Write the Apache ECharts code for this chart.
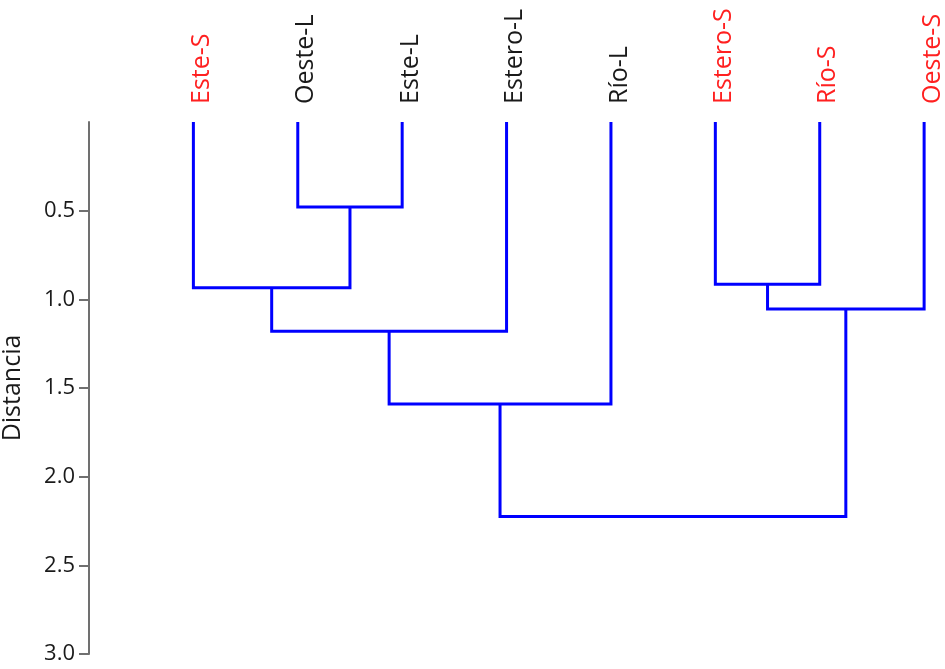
<!DOCTYPE html>
<html>
<head>
<meta charset="utf-8">
<script src="https://cdn.jsdelivr.net/npm/echarts@6/dist/echarts.min.js"></script>
<style>html,body{margin:0;padding:0;background:#fff}#c{width:945px;height:669px}</style>
</head>
<body>
<div id="c"></div>
<script>
// Leaves in dendrogram order
const leaves = ['Este-S', 'Oeste-L', 'Este-L', 'Estero-L', 'Río-L', 'Estero-S', 'Río-S', 'Oeste-S'];
// Linkage: cluster ids 0..7 are leaves, 8+ are merges in order
const mergeLeft   = [1, 5, 0, 9, 10, 12, 13];
const mergeRight  = [2, 6, 8, 7, 3, 4, 11];
const mergeHeight = [0.48, 0.915, 0.935, 1.055, 1.18, 1.59, 2.225];
const yTicks = [0.5, 1.0, 1.5, 2.0, 2.5, 3.0];

// node positions (x = leaf order index, y = distance)
const nodeX = leaves.map((_, i) => i);
const nodeH = leaves.map(() => 0);
const links = [];
mergeLeft.forEach((l, k) => {
  const r = mergeRight[k], h = mergeHeight[k];
  links.push([nodeX[l], nodeH[l], nodeX[r], nodeH[r], h]);
  nodeX.push((nodeX[l] + nodeX[r]) / 2);
  nodeH.push(h);
});

const chart = echarts.init(document.getElementById('c'));
chart.setOption({
  animation: false,
  grid: { left: 89, right: 0, top: 122, bottom: 15, containLabel: false, outerBoundsMode: 'none' },
  xAxis: { type: 'value', min: -1, max: 7.2, show: false },
  yAxis: {
    type: 'value', inverse: true, min: 0, max: 3, interval: 0.5,
    name: 'Distancia', nameLocation: 'middle', nameGap: 64, nameRotate: 90,
    nameTextStyle: { fontFamily: 'Open Sans', fontSize: 25, color: '#1a1a1a' },
    axisLine: { show: true, onZero: false, lineStyle: { color: '#707070', width: 2 } },
    axisTick: { show: true, inside: false, length: 10, customValues: yTicks,
                lineStyle: { color: '#707070', width: 2 } },
    axisLabel: {
      fontFamily: 'Open Sans', fontSize: 22, color: '#1a1a1a', margin: 14,
      customValues: yTicks,
      formatter: v => Number(v).toFixed(1)
    },
    splitLine: { show: false }
  },
  series: [
    {
      type: 'custom',
      data: links,
      renderItem: (params, api) => {
        const a = api.coord([api.value(0), api.value(1)]);
        const b = api.coord([api.value(0), api.value(4)]);
        const c = api.coord([api.value(2), api.value(4)]);
        const d = api.coord([api.value(2), api.value(3)]);
        return {
          type: 'polyline',
          shape: { points: [a, b, c, d] },
          style: { stroke: '#0000ff', lineWidth: 3, fill: null, lineJoin: 'miter' }
        };
      }
    },
    {
      type: 'custom',
      data: leaves.map((n, i) => [i, 0, n]),
      renderItem: (params, api) => {
        const p = api.coord([api.value(0), 0]);
        const name = leaves[params.dataIndex];
        return {
          type: 'text',
          x: p[0] - 4,
          y: p[1] - 18,
          rotation: Math.PI / 2,
          style: {
            text: name,
            fontFamily: 'Open Sans',
            fontSize: 25,
            fill: /-S$/.test(name) ? '#ff2020' : '#1a1a1a',
            align: 'left',
            verticalAlign: 'top'
          }
        };
      }
    }
  ]
});
</script>
</body>
</html>
